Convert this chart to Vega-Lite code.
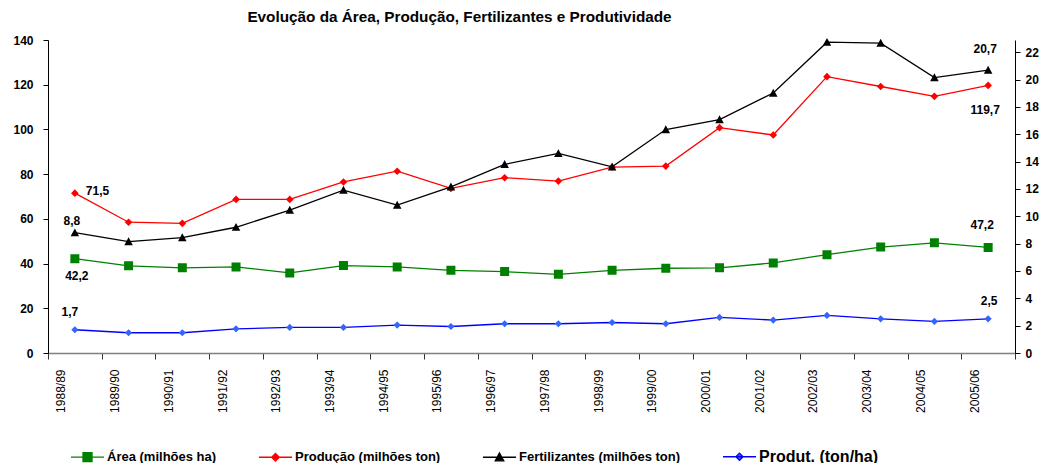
{
  "$schema": "https://vega.github.io/schema/vega-lite/v6.json",
  "width": 967,
  "height": 313,
  "autosize": {"type": "none"},
  "padding": {"left": 48, "top": 40, "right": 25, "bottom": 110},
  "background": "white",
  "title": {
    "text": "Evolução da Área, Produção, Fertilizantes e Produtividade",
    "font": "Liberation Sans",
    "fontSize": 15.3,
    "fontWeight": "bold",
    "color": "black",
    "anchor": "middle",
    "frame": "group",
    "dx": -72,
    "baseline": "alphabetic",
    "offset": -3
  },
  "data": {
    "values": [
      {"year": "1988/89", "series": "Área (milhões ha)", "value": 42.2},
      {"year": "1989/90", "series": "Área (milhões ha)", "value": 39.0},
      {"year": "1990/91", "series": "Área (milhões ha)", "value": 38.1},
      {"year": "1991/92", "series": "Área (milhões ha)", "value": 38.5},
      {"year": "1992/93", "series": "Área (milhões ha)", "value": 35.8},
      {"year": "1993/94", "series": "Área (milhões ha)", "value": 39.1},
      {"year": "1994/95", "series": "Área (milhões ha)", "value": 38.5},
      {"year": "1995/96", "series": "Área (milhões ha)", "value": 37.0},
      {"year": "1996/97", "series": "Área (milhões ha)", "value": 36.4},
      {"year": "1997/98", "series": "Área (milhões ha)", "value": 35.2},
      {"year": "1998/99", "series": "Área (milhões ha)", "value": 37.0},
      {"year": "1999/00", "series": "Área (milhões ha)", "value": 37.9},
      {"year": "2000/01", "series": "Área (milhões ha)", "value": 38.1},
      {"year": "2001/02", "series": "Área (milhões ha)", "value": 40.3},
      {"year": "2002/03", "series": "Área (milhões ha)", "value": 44.0},
      {"year": "2003/04", "series": "Área (milhões ha)", "value": 47.4},
      {"year": "2004/05", "series": "Área (milhões ha)", "value": 49.3},
      {"year": "2005/06", "series": "Área (milhões ha)", "value": 47.2},
      {"year": "1988/89", "series": "Produção (milhões ton)", "value": 71.5},
      {"year": "1989/90", "series": "Produção (milhões ton)", "value": 58.5},
      {"year": "1990/91", "series": "Produção (milhões ton)", "value": 58.0},
      {"year": "1991/92", "series": "Produção (milhões ton)", "value": 68.7},
      {"year": "1992/93", "series": "Produção (milhões ton)", "value": 68.7},
      {"year": "1993/94", "series": "Produção (milhões ton)", "value": 76.5},
      {"year": "1994/95", "series": "Produção (milhões ton)", "value": 81.3},
      {"year": "1995/96", "series": "Produção (milhões ton)", "value": 73.6},
      {"year": "1996/97", "series": "Produção (milhões ton)", "value": 78.4},
      {"year": "1997/98", "series": "Produção (milhões ton)", "value": 76.9},
      {"year": "1998/99", "series": "Produção (milhões ton)", "value": 83.1},
      {"year": "1999/00", "series": "Produção (milhões ton)", "value": 83.6},
      {"year": "2000/01", "series": "Produção (milhões ton)", "value": 100.8},
      {"year": "2001/02", "series": "Produção (milhões ton)", "value": 97.5},
      {"year": "2002/03", "series": "Produção (milhões ton)", "value": 123.6},
      {"year": "2003/04", "series": "Produção (milhões ton)", "value": 119.2},
      {"year": "2004/05", "series": "Produção (milhões ton)", "value": 114.8},
      {"year": "2005/06", "series": "Produção (milhões ton)", "value": 119.7},
      {"year": "1988/89", "series": "Fertilizantes (milhões ton)", "value": 8.8},
      {"year": "1989/90", "series": "Fertilizantes (milhões ton)", "value": 8.15},
      {"year": "1990/91", "series": "Fertilizantes (milhões ton)", "value": 8.44},
      {"year": "1991/92", "series": "Fertilizantes (milhões ton)", "value": 9.2},
      {"year": "1992/93", "series": "Fertilizantes (milhões ton)", "value": 10.46},
      {"year": "1993/94", "series": "Fertilizantes (milhões ton)", "value": 11.92},
      {"year": "1994/95", "series": "Fertilizantes (milhões ton)", "value": 10.82},
      {"year": "1995/96", "series": "Fertilizantes (milhões ton)", "value": 12.16},
      {"year": "1996/97", "series": "Fertilizantes (milhões ton)", "value": 13.8},
      {"year": "1997/98", "series": "Fertilizantes (milhões ton)", "value": 14.6},
      {"year": "1998/99", "series": "Fertilizantes (milhões ton)", "value": 13.62},
      {"year": "1999/00", "series": "Fertilizantes (milhões ton)", "value": 16.35},
      {"year": "2000/01", "series": "Fertilizantes (milhões ton)", "value": 17.08},
      {"year": "2001/02", "series": "Fertilizantes (milhões ton)", "value": 19.02},
      {"year": "2002/03", "series": "Fertilizantes (milhões ton)", "value": 22.74},
      {"year": "2003/04", "series": "Fertilizantes (milhões ton)", "value": 22.67},
      {"year": "2004/05", "series": "Fertilizantes (milhões ton)", "value": 20.15},
      {"year": "2005/06", "series": "Fertilizantes (milhões ton)", "value": 20.7},
      {"year": "1988/89", "series": "Produt. (ton/ha)", "value": 1.7},
      {"year": "1989/90", "series": "Produt. (ton/ha)", "value": 1.48},
      {"year": "1990/91", "series": "Produt. (ton/ha)", "value": 1.48},
      {"year": "1991/92", "series": "Produt. (ton/ha)", "value": 1.77},
      {"year": "1992/93", "series": "Produt. (ton/ha)", "value": 1.87},
      {"year": "1993/94", "series": "Produt. (ton/ha)", "value": 1.87},
      {"year": "1994/95", "series": "Produt. (ton/ha)", "value": 2.04},
      {"year": "1995/96", "series": "Produt. (ton/ha)", "value": 1.94},
      {"year": "1996/97", "series": "Produt. (ton/ha)", "value": 2.14},
      {"year": "1997/98", "series": "Produt. (ton/ha)", "value": 2.14},
      {"year": "1998/99", "series": "Produt. (ton/ha)", "value": 2.23},
      {"year": "1999/00", "series": "Produt. (ton/ha)", "value": 2.14},
      {"year": "2000/01", "series": "Produt. (ton/ha)", "value": 2.6},
      {"year": "2001/02", "series": "Produt. (ton/ha)", "value": 2.41},
      {"year": "2002/03", "series": "Produt. (ton/ha)", "value": 2.75},
      {"year": "2003/04", "series": "Produt. (ton/ha)", "value": 2.5},
      {"year": "2004/05", "series": "Produt. (ton/ha)", "value": 2.31},
      {"year": "2005/06", "series": "Produt. (ton/ha)", "value": 2.5}
    ]
  },
  "encoding": {
    "x": {
      "field": "year",
      "type": "ordinal",
      "scale": {"type": "band", "paddingInner": 0, "paddingOuter": 0},
      "axis": {
        "title": null,
        "labelAngle": -90,
        "labelFont": "Liberation Sans",
        "labelFontSize": 12,
        "labelColor": "black",
        "labelOffset": -14,
        "labelPadding": 10,
        "labelOverlap": false,
        "labelFlush": false,
        "tickBand": "extent",
        "tickSize": 6,
        "tickColor": "#333333",
        "domainColor": "#7f7f7f",
        "domainWidth": 1.5,
        "grid": false
      }
    },
    "fill": {
      "field": "series",
      "type": "nominal",
      "title": null,
      "scale": {
        "domain": ["Área (milhões ha)", "Produção (milhões ton)", "Fertilizantes (milhões ton)", "Produt. (ton/ha)"],
        "range": ["#008000", "#ff0000", "#000000", "#3366ff"]
      },
      "legend": {
        "orient": "none",
        "legendX": 22,
        "legendY": 410,
        "direction": "horizontal",
        "columns": 4,
        "symbolSize": 81,
        "symbolOffset": 11,
        "symbolStrokeWidth": 1.3,
        "labelOffset": 13,
        "columnPadding": 39,
        "labelFont": "Liberation Sans",
        "labelFontSize": 13,
        "labelFontWeight": "bold",
        "labelColor": "black",
        "labelLimit": 300,
        "symbolOpacity": 1,
        "encode": {
          "symbols": {
            "update": {
              "stroke": {"signal": "scale('stroke', datum.value)"},
              "strokeWidth": {"value": 1.3},
              "opacity": {"value": 1}
            }
          },
          "labels": {
            "update": {
              "fontSize": {"signal": "datum.value == 'Produt. (ton/ha)' ? 16 : 13"}
            }
          }
        }
      }
    },
    "shape": {
      "field": "series",
      "type": "nominal",
      "title": null,
      "scale": {
        "domain": ["Área (milhões ha)", "Produção (milhões ton)", "Fertilizantes (milhões ton)", "Produt. (ton/ha)"],
        "range": [
          "M-3.67,0H3.67M-1,-1H1V1H-1Z",
          "M-3.67,0H3.67M0,-0.85L0.85,0L0,0.85L-0.85,0Z",
          "M-3.67,0H3.67M0,-0.95L0.95,0.8L-0.95,0.8Z",
          "M-3.67,0H3.67M0,-0.8L0.8,0L0,0.8L-0.8,0Z"
        ]
      }
    },
    "stroke": {
      "field": "series",
      "type": "nominal",
      "title": null,
      "scale": {
        "domain": ["Área (milhões ha)", "Produção (milhões ton)", "Fertilizantes (milhões ton)", "Produt. (ton/ha)"],
        "range": ["#008000", "#ff0000", "#000000", "#0000ff"]
      },
      "legend": {
        "orient": "none",
        "legendX": 22,
        "legendY": 410,
        "direction": "horizontal",
        "columns": 4,
        "symbolSize": 81,
        "symbolOffset": 11,
        "symbolStrokeWidth": 1.3,
        "labelOffset": 13,
        "columnPadding": 39,
        "labelFont": "Liberation Sans",
        "labelFontSize": 13,
        "labelFontWeight": "bold",
        "labelColor": "black",
        "labelLimit": 300,
        "symbolOpacity": 1
      }
    }
  },
  "layer": [
    {
      "transform": [{"filter": {"field": "series", "oneOf": ["Área (milhões ha)", "Produção (milhões ton)"]}}],
      "encoding": {
        "y": {
          "field": "value",
          "type": "quantitative",
          "scale": {"domain": [0, 140], "nice": false},
          "axis": {
            "orient": "left",
            "title": null,
            "values": [0, 20, 40, 60, 80, 100, 120, 140],
            "labelFont": "Liberation Sans",
            "labelFontSize": 12,
            "labelFontWeight": "bold",
            "labelColor": "black",
            "labelPadding": 10,
            "tickSize": 5,
            "tickColor": "black",
            "domainColor": "black",
            "grid": false
          }
        }
      },
      "layer": [
        {
          "mark": {"type": "line", "strokeWidth": 1.3},
          "encoding": {"fill": null, "shape": null}
        },
        {
          "mark": {"type": "point", "filled": true, "size": 81, "opacity": 1, "strokeWidth": 0},
          "encoding": {}
        },
        {
          "transform": [{"filter": "datum.year == '1988/89' && datum.series == 'Produção (milhões ton)'"}],
          "mark": {"type": "text", "align": "left", "dx": 11, "dy": -2, "font": "Liberation Sans", "fontSize": 12, "fontWeight": "bold", "color": "black"},
          "encoding": {"fill": null, "shape": null, "stroke": null, "text": {"field": "value", "type": "quantitative", "format": ".1f"}}
        },
        {
          "transform": [{"filter": "datum.year == '1988/89' && datum.series == 'Área (milhões ha)'"}],
          "mark": {"type": "text", "dx": 2, "dy": 17, "font": "Liberation Sans", "fontSize": 12, "fontWeight": "bold", "color": "black"},
          "encoding": {"fill": null, "shape": null, "stroke": null, "text": {"field": "value", "type": "quantitative", "format": ".1f"}}
        },
        {
          "transform": [{"filter": "datum.year == '2005/06' && datum.series == 'Produção (milhões ton)'"}],
          "mark": {"type": "text", "dx": -3, "dy": 25, "font": "Liberation Sans", "fontSize": 12, "fontWeight": "bold", "color": "black"},
          "encoding": {"fill": null, "shape": null, "stroke": null, "text": {"field": "value", "type": "quantitative", "format": ".1f"}}
        },
        {
          "transform": [{"filter": "datum.year == '2005/06' && datum.series == 'Área (milhões ha)'"}],
          "mark": {"type": "text", "dx": -6, "dy": -22, "font": "Liberation Sans", "fontSize": 12, "fontWeight": "bold", "color": "black"},
          "encoding": {"fill": null, "shape": null, "stroke": null, "text": {"field": "value", "type": "quantitative", "format": ".1f"}}
        }
      ]
    },
    {
      "transform": [{"filter": {"field": "series", "oneOf": ["Fertilizantes (milhões ton)", "Produt. (ton/ha)"]}}],
      "encoding": {
        "y": {
          "field": "value",
          "type": "quantitative",
          "scale": {"domain": [0, 22.9], "nice": false},
          "axis": {
            "orient": "right",
            "title": null,
            "values": [0, 2, 4, 6, 8, 10, 12, 14, 16, 18, 20, 22],
            "labelFont": "Liberation Sans",
            "labelFontSize": 12,
            "labelFontWeight": "bold",
            "labelColor": "black",
            "labelPadding": 5,
            "tickSize": 5,
            "tickColor": "black",
            "domainColor": "black",
            "grid": false
          }
        }
      },
      "layer": [
        {
          "mark": {"type": "line", "strokeWidth": 1.3},
          "encoding": {"fill": null, "shape": null}
        },
        {
          "mark": {"type": "point", "filled": true, "size": 81, "opacity": 1, "strokeWidth": 0},
          "encoding": {}
        },
        {
          "transform": [{"filter": "datum.year == '1988/89' && datum.series == 'Fertilizantes (milhões ton)'"}],
          "mark": {"type": "text", "dx": -3, "dy": -12, "font": "Liberation Sans", "fontSize": 12, "fontWeight": "bold", "color": "black"},
          "encoding": {"fill": null, "shape": null, "stroke": null, "text": {"field": "value", "type": "quantitative", "format": ".1f"}}
        },
        {
          "transform": [{"filter": "datum.year == '1988/89' && datum.series == 'Produt. (ton/ha)'"}],
          "mark": {"type": "text", "dx": -5, "dy": -18, "font": "Liberation Sans", "fontSize": 12, "fontWeight": "bold", "color": "black"},
          "encoding": {"fill": null, "shape": null, "stroke": null, "text": {"field": "value", "type": "quantitative", "format": ".1f"}}
        },
        {
          "transform": [{"filter": "datum.year == '2005/06' && datum.series == 'Fertilizantes (milhões ton)'"}],
          "mark": {"type": "text", "dx": -3, "dy": -21, "font": "Liberation Sans", "fontSize": 12, "fontWeight": "bold", "color": "black"},
          "encoding": {"fill": null, "shape": null, "stroke": null, "text": {"field": "value", "type": "quantitative", "format": ".1f"}}
        },
        {
          "transform": [{"filter": "datum.year == '2005/06' && datum.series == 'Produt. (ton/ha)'"}],
          "mark": {"type": "text", "dx": 1, "dy": -18, "font": "Liberation Sans", "fontSize": 12, "fontWeight": "bold", "color": "black"},
          "encoding": {"fill": null, "shape": null, "stroke": null, "text": {"field": "value", "type": "quantitative", "format": ".1f"}}
        }
      ]
    }
  ],
  "resolve": {"scale": {"y": "independent"}},
  "config": {
    "view": {"stroke": null},
    "font": "Liberation Sans",
    "locale": {
      "number": {"decimal": ",", "thousands": ".", "grouping": [3], "currency": ["", ""]}
    }
  }
}
